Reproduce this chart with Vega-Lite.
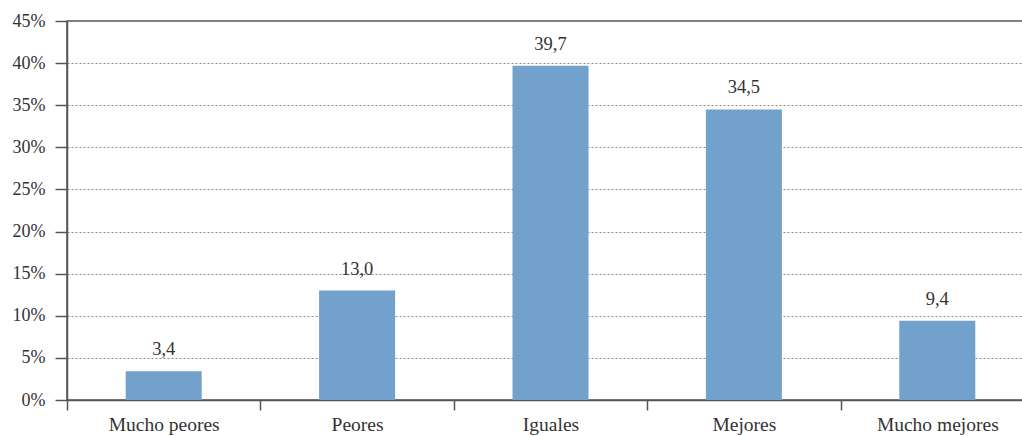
{
  "$schema": "https://vega.github.io/schema/vega-lite/v6.json",
  "autosize": "none",
  "width": 967,
  "height": 379,
  "padding": {"left": 67, "top": 21, "right": 0, "bottom": 36},
  "background": "white",
  "config": {
    "font": "Liberation Serif",
    "text": {"font": "Liberation Serif"},
    "mark": {"font": "Liberation Serif"},
    "locale": {"number": {"decimal": ",", "thousands": ".", "grouping": [3], "currency": ["", " €"]}},
    "view": {"stroke": "#555555", "strokeWidth": 1.5}
  },
  "data": {
    "values": [
      {"categoria": "Mucho peores", "valor": 3.4},
      {"categoria": "Peores", "valor": 13.0},
      {"categoria": "Iguales", "valor": 39.7},
      {"categoria": "Mejores", "valor": 34.5},
      {"categoria": "Mucho mejores", "valor": 9.4}
    ]
  },
  "encoding": {
    "x": {
      "field": "categoria",
      "type": "nominal",
      "sort": null,
      "scale": {"paddingInner": 0, "paddingOuter": 0},
      "axis": {
        "title": null,
        "labelAngle": 0,
        "tickBand": "extent",
        "tickSize": 10,
        "tickColor": "#555555",
        "tickWidth": 1.5,
        "domainColor": "#555555",
        "domainWidth": 1.5,
        "labelPadding": 5,
        "labelFontSize": 19.5,
        "labelColor": "#333333",
        "labelFont": "Liberation Serif",
        "grid": false
      }
    },
    "y": {
      "field": "valor",
      "type": "quantitative",
      "scale": {"domain": [0, 45], "nice": false},
      "axis": {
        "title": null,
        "values": [0, 5, 10, 15, 20, 25, 30, 35, 40, 45],
        "labelExpr": "datum.value + '%'",
        "tickSize": 12,
        "tickColor": "#555555",
        "tickWidth": 1.5,
        "domainColor": "#555555",
        "domainWidth": 1.5,
        "labelPadding": 10,
        "labelFontSize": 18,
        "labelColor": "#333333",
        "labelFont": "Liberation Serif",
        "grid": true,
        "gridColor": "#888888",
        "gridDash": [2, 2],
        "gridWidth": 1
      }
    }
  },
  "layer": [
    {
      "mark": {"type": "bar", "color": "#72a1cc", "width": {"band": 0.393}}
    },
    {
      "mark": {"type": "text", "baseline": "bottom", "dy": -12, "fontSize": 18.5, "color": "#333333", "font": "Liberation Serif"},
      "encoding": {
        "text": {"field": "valor", "type": "quantitative", "format": ".1f"}
      }
    }
  ]
}
